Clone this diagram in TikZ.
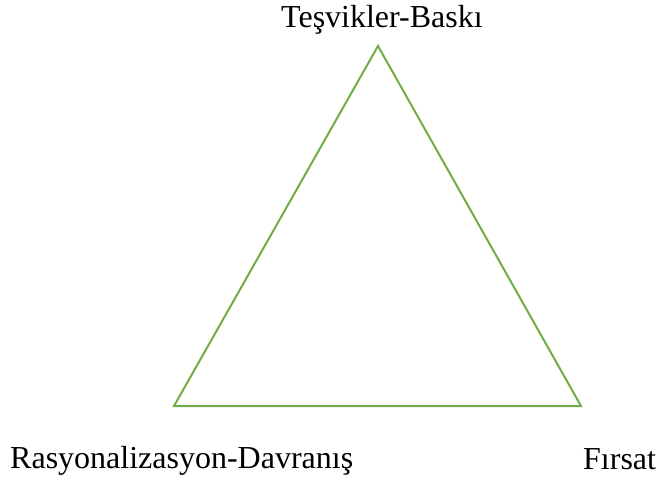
\documentclass[tikz,border=0pt]{standalone}
\usepackage{fontspec}
\setmainfont{Liberation Serif}
\definecolor{trigreen}{RGB}{112,173,71}
\tikzset{
  side/.style={draw=trigreen, line width=2pt, line join=miter},
  cornerlabel/.style={font=\fontsize{32}{36}\selectfont, inner sep=0pt},
}
\begin{document}
\begin{tikzpicture}[x=1pt, y=-1pt]
  \useasboundingbox (0,0) rectangle (659,481);
  % corners of the triangle
  \coordinate (apex)  at (378,46);
  \coordinate (left)  at (174,406);
  \coordinate (right) at (581,406);
  \draw[side] (apex) -- (left) -- (right) -- cycle;
  % labels
  \node[cornerlabel, anchor=base west] (press) at (281,28) {Teşvikler-Baskı};
  \node[cornerlabel, anchor=base west] (rational) at (10,468) {Rasyonalizasyon-Davranış};
  \node[cornerlabel, anchor=base west] (chance) at (583,469) {Fırsat};
\end{tikzpicture}
\end{document}
